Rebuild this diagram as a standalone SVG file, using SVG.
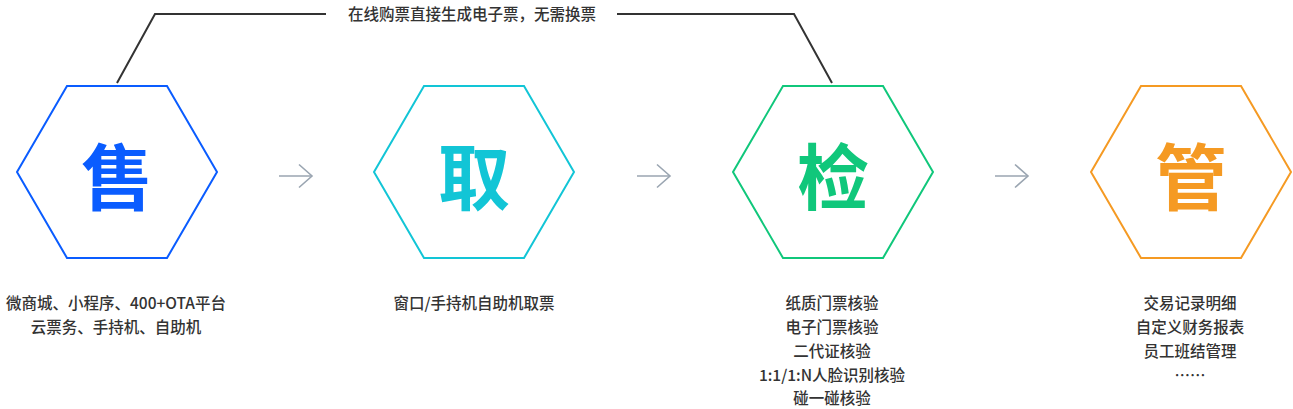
<svg xmlns="http://www.w3.org/2000/svg" width="1293" height="409" viewBox="0 0 1293 409">
<style>
.hex{fill:none;stroke-width:2}
.big{font-family:"Noto Sans CJK SC","Noto Sans",sans-serif;font-size:72px;font-weight:bold;text-anchor:middle;dominant-baseline:central}
.lbl{font-family:"Noto Sans CJK SC","Noto Sans",sans-serif;font-size:15.5px;font-weight:500;fill:#333;text-anchor:middle}
.lead{fill:none;stroke:#333;stroke-width:2}
.arr{fill:none;stroke:#9aa5b1;stroke-width:1.6}
</style>
<rect width="1293" height="409" fill="#fff"/>
<g id="connectors">
<polyline class="lead" points="117,83 155,14 326,14"/>
<polyline class="lead" points="617,14 794,14 832,83"/>
<text class="lbl" x="472" y="19.5">在线购票直接生成电子票，无需换票</text>
<g class="arr"><line x1="279" y1="176" x2="312" y2="176"/><polyline points="299,164.5 312,176 299,187.5"/></g>
<g class="arr"><line x1="637" y1="176" x2="670" y2="176"/><polyline points="657,164.5 670,176 657,187.5"/></g>
<g class="arr"><line x1="995" y1="176" x2="1028" y2="176"/><polyline points="1015,164.5 1028,176 1015,187.5"/></g>
</g>
<g id="node-sell">
<polygon class="hex" stroke="#0a5cff" points="17,172 67,86 167,86 217,172 167,258 67,258"/>
<text class="big" x="117" y="172" fill="#0a5cff">售</text>
<text class="lbl" x="116" y="309">微商城、小程序、400+OTA平台</text>
<text class="lbl" x="116" y="333">云票务、手持机、自助机</text>
</g>
<g id="node-take">
<polygon class="hex" stroke="#12c5d6" points="374,172 424,86 524,86 574,172 524,258 424,258"/>
<text class="big" x="474" y="172" fill="#12c5d6">取</text>
<text class="lbl" x="474" y="309">窗口/手持机自助机取票</text>
</g>
<g id="node-check">
<polygon class="hex" stroke="#10c77b" points="733,172 783,86 883,86 933,172 883,258 783,258"/>
<text class="big" x="833" y="172" fill="#10c77b">检</text>
<text class="lbl" x="832" y="309">纸质门票核验</text>
<text class="lbl" x="832" y="333">电子门票核验</text>
<text class="lbl" x="832" y="356.5">二代证核验</text>
<text class="lbl" x="832" y="380.5">1:1/1:N人脸识别核验</text>
<text class="lbl" x="832" y="404">碰一碰核验</text>
</g>
<g id="node-manage">
<polygon class="hex" stroke="#f59a23" points="1091,172 1141,86 1241,86 1291,172 1241,258 1141,258"/>
<text class="big" x="1191" y="172" fill="#f59a23">管</text>
<text class="lbl" x="1190" y="309">交易记录明细</text>
<text class="lbl" x="1190" y="333">自定义财务报表</text>
<text class="lbl" x="1190" y="356.5">员工班结管理</text>
<text class="lbl" x="1190" y="380.5">……</text>
</g>
</svg>
